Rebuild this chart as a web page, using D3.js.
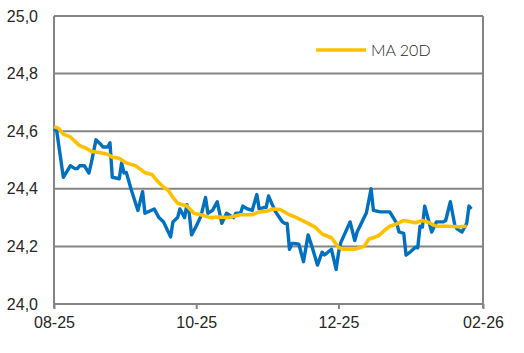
<!DOCTYPE html>
<html lang="en">
<head>
<meta charset="UTF-8">
<title>MA 20D</title>
<style>
    body { margin: 0; background: #fff; }
    svg { display: block; font-family: Lato, "Open Sans", sans-serif; }
    .lbl { font-size: 16px; fill: #262626; font-weight: 300; }
</style>
</head>
<body>
<div id="chart"></div>
<script src="https://d3js.org/d3.v7.min.js"></script>
<script>
    // daily series (blue)
    const dailyDates = [
        "2025-08-01","2025-08-02","2025-08-05","2025-08-08","2025-08-10","2025-08-11","2025-08-12","2025-08-14",
        "2025-08-16","2025-08-17","2025-08-19","2025-08-21","2025-08-22","2025-08-24","2025-08-25","2025-08-26",
        "2025-08-29","2025-08-30","2025-08-31","2025-09-01","2025-09-03","2025-09-06","2025-09-08","2025-09-09",
        "2025-09-13","2025-09-15","2025-09-17","2025-09-20","2025-09-21","2025-09-23","2025-09-24","2025-09-26",
        "2025-09-27","2025-09-28","2025-09-29","2025-10-01","2025-10-03","2025-10-05","2025-10-06","2025-10-08",
        "2025-10-10","2025-10-12","2025-10-14","2025-10-15","2025-10-17","2025-10-18","2025-10-20","2025-10-21",
        "2025-10-23","2025-10-25","2025-10-27","2025-10-28","2025-10-30","2025-10-31","2025-11-01","2025-11-03",
        "2025-11-04","2025-11-07","2025-11-08","2025-11-09","2025-11-10","2025-11-11","2025-11-12","2025-11-14",
        "2025-11-16","2025-11-18","2025-11-20","2025-11-22","2025-11-24","2025-11-25","2025-11-28","2025-11-30",
        "2025-12-01","2025-12-02","2025-12-06","2025-12-08","2025-12-09","2025-12-13","2025-12-15","2025-12-16",
        "2025-12-19","2025-12-23","2025-12-26","2025-12-27","2025-12-29","2025-12-30","2026-01-01","2026-01-03",
        "2026-01-04","2026-01-05","2026-01-06","2026-01-07","2026-01-08","2026-01-10","2026-01-12","2026-01-15",
        "2026-01-16","2026-01-18","2026-01-20","2026-01-21","2026-01-23","2026-01-25","2026-01-26","2026-01-27"
    ];
    const dailyValues = [
        24.60, 24.61, 24.44, 24.48, 24.47, 24.47, 24.48, 24.48,
        24.455, 24.49, 24.57, 24.555, 24.545, 24.545, 24.56, 24.44,
        24.435, 24.49, 24.455, 24.457, 24.40, 24.325, 24.39, 24.315,
        24.33, 24.30, 24.285, 24.233, 24.285, 24.30, 24.33, 24.30,
        24.345, 24.315, 24.24, 24.27, 24.305, 24.37, 24.315, 24.325,
        24.355, 24.28, 24.315, 24.31, 24.30, 24.315, 24.315, 24.34,
        24.33, 24.325, 24.38, 24.33, 24.335, 24.335, 24.375, 24.338,
        24.32, 24.285, 24.28, 24.28, 24.19, 24.21, 24.21, 24.208,
        24.147, 24.24, 24.19, 24.135, 24.18, 24.17, 24.19, 24.12,
        24.176, 24.213, 24.285, 24.22, 24.25, 24.317, 24.40, 24.325,
        24.32, 24.32, 24.28, 24.25, 24.245, 24.17, 24.182, 24.197,
        24.195, 24.27, 24.267, 24.34, 24.31, 24.25, 24.285, 24.285,
        24.29, 24.355, 24.27, 24.26, 24.25, 24.28, 24.34, 24.33
    ];

    // 20-day moving average (yellow)
    const maDates = [
        "2025-08-01","2025-08-03","2025-08-05","2025-08-08","2025-08-12","2025-08-15","2025-08-17","2025-08-21",
        "2025-08-24","2025-08-26","2025-08-29","2025-09-01","2025-09-05","2025-09-09","2025-09-12","2025-09-14",
        "2025-09-17","2025-09-19","2025-09-21","2025-09-23","2025-09-27","2025-09-30","2025-10-03","2025-10-07",
        "2025-10-11","2025-10-15","2025-10-20","2025-10-25","2025-10-28","2025-10-31","2025-11-03","2025-11-06",
        "2025-11-10","2025-11-13","2025-11-18","2025-11-21","2025-11-24","2025-11-28","2025-12-01","2025-12-03",
        "2025-12-08","2025-12-12","2025-12-14","2025-12-18","2025-12-21","2025-12-23","2025-12-26","2025-12-29",
        "2026-01-03","2026-01-06","2026-01-09","2026-01-12","2026-01-17","2026-01-22","2026-01-25"
    ];
    const maValues = [
        24.616, 24.61, 24.59, 24.58, 24.55, 24.54, 24.53, 24.525,
        24.52, 24.51, 24.506, 24.49, 24.48, 24.456, 24.45, 24.43,
        24.405, 24.395, 24.37, 24.35, 24.34, 24.315, 24.31, 24.30,
        24.302, 24.30, 24.31, 24.31, 24.32, 24.322, 24.33, 24.328,
        24.31, 24.30, 24.28, 24.267, 24.243, 24.23, 24.197, 24.19,
        24.19, 24.20, 24.225, 24.236, 24.257, 24.27, 24.278, 24.29,
        24.282, 24.29, 24.282, 24.27, 24.27, 24.268, 24.27
    ];

    const xTickDates = ["2025-08-01", "2025-10-01", "2025-12-01", "2026-02-01"];
    const xTickLabels = ["08-25", "10-25", "12-25", "02-26"];
    const yTicks = [24.0, 24.2, 24.4, 24.6, 24.8, 25.0];

    const W = 524, H = 353;
    const margin = {top: 16, right: 41, bottom: 49, left: 54};
    const width = W - margin.left - margin.right,
          height = H - margin.top - margin.bottom;

    const parse = d3.timeParse("%Y-%m-%d");
    const daily = dailyDates.map((d, i) => ({date: parse(d), v: dailyValues[i]}));
    const ma = maDates.map((d, i) => ({date: parse(d), v: maValues[i]}));

    const svg = d3.select("#chart").append("svg")
        .attr("width", W).attr("height", H);
    const g = svg.append("g").attr("transform", `translate(${margin.left},${margin.top})`);

    const x = d3.scaleTime()
        .domain([parse(xTickDates[0]), parse(xTickDates[xTickDates.length - 1])])
        .range([0, width]);
    const y = d3.scaleLinear().domain([24, 25]).range([height, 0]);

    const grey = "#858585";

    // horizontal gridlines
    g.append("g").selectAll("line").data(yTicks).join("line")
        .attr("x1", 0).attr("x2", width)
        .attr("y1", d => y(d)).attr("y2", d => y(d))
        .attr("stroke", grey).attr("stroke-width", 2);

    // left / right frame
    g.append("line").attr("x1", 0).attr("x2", 0).attr("y1", 0).attr("y2", height + 4)
        .attr("stroke", grey).attr("stroke-width", 2);
    g.append("line").attr("x1", width).attr("x2", width).attr("y1", 0).attr("y2", height + 4)
        .attr("stroke", grey).attr("stroke-width", 2);

    // x axis ticks + labels
    const xAxis = d3.axisBottom(x)
        .tickValues(xTickDates.map(parse))
        .tickFormat((d, i) => xTickLabels[i])
        .tickSize(5).tickPadding(8);
    const xg = g.append("g").attr("transform", `translate(0,${height})`).call(xAxis);
    xg.select(".domain").remove();
    xg.selectAll("line").attr("stroke", grey).attr("stroke-width", 2);
    xg.selectAll("text").attr("class", "lbl").attr("font-size", null).attr("font-family", null);

    // y axis labels
    const yAxis = d3.axisLeft(y).tickValues(yTicks)
        .tickFormat(d => d3.format(".1f")(d).replace(".", ","))
        .tickSize(0).tickPadding(16);
    const yg = g.append("g").call(yAxis);
    yg.select(".domain").remove();
    yg.selectAll("text").attr("class", "lbl").attr("font-size", null).attr("font-family", null);

    // lines
    const line = d3.line().x(d => x(d.date)).y(d => y(d.v));
    g.append("path").datum(daily)
        .attr("fill", "none").attr("stroke", "#0070C0")
        .attr("stroke-width", 3.4).attr("stroke-linejoin", "round")
        .attr("d", line);
    g.append("path").datum(ma)
        .attr("fill", "none").attr("stroke", "#FFC000")
        .attr("stroke-width", 3.6).attr("stroke-linejoin", "round")
        .attr("d", line);

    // legend
    const lg = svg.append("g").attr("transform", "translate(316,50)");
    lg.append("line").attr("x1", 0).attr("x2", 50).attr("y1", 0).attr("y2", 0)
        .attr("stroke", "#FFC000").attr("stroke-width", 3.6);
    lg.append("text").attr("class", "lbl").attr("x", 55).attr("y", 6).text("MA 20D");
</script>
</body>
</html>
